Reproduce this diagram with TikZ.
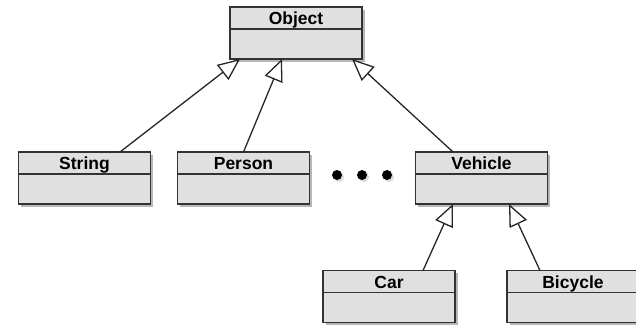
\documentclass[tikz,border=0pt]{standalone}
\usepackage{fontspec}
\setsansfont{Liberation Sans}
\usetikzlibrary{arrows.meta,shadows,positioning}
\tikzset{
  class shadow/.style={drop shadow={shadow xshift=2.5pt,shadow yshift=-2.5pt,opacity=0.4,fill=black!70}},
  class head/.style={draw=black!80,line width=1.6pt,fill=black!12,minimum width=132pt,minimum height=22pt,
    inner sep=0pt,outer sep=0pt,text height=16pt,text depth=3pt,
    font=\sffamily\bfseries\fontsize{17.5}{19}\selectfont,class shadow},
  class body/.style={draw=black!80,line width=1.6pt,fill=black!12,minimum width=132pt,minimum height=30pt,
    inner sep=0pt,outer sep=0pt,class shadow},
  generalization/.style={line width=1.3pt,black!85,-{Triangle[open,length=22pt,width=19pt,fill=white]}},
  ellipsis dot/.style={fill=black,drop shadow={shadow xshift=2pt,shadow yshift=-2pt,opacity=0.3}},
}
% #1 = node name, #2 = centre of the name bar, #3 = class name
\newcommand{\drawClassBox}[3]{
\node[class head] (#1) at (#2) {#3};
\node[class body,below=0pt of #1] (#1-body) {};
}

\begin{document}
\begin{tikzpicture}[x=1pt,y=-1pt]
\useasboundingbox (0,0) rectangle (636,324);
\drawClassBox{object}{296,18}{Object}
\drawClassBox{string}{84.5,163}{String}
\drawClassBox{person}{243.5,163}{Person}
\drawClassBox{vehicle}{481.5,163}{Vehicle}
\drawClassBox{car}{389,281.5}{Car}
\drawClassBox{bicycle}{573,281.5}{Bicycle}
% inheritance arrows
\draw[generalization] ([xshift=35.5pt]string.north) -- ([xshift=-56pt]object-body.south);
\draw[generalization] (person.north) -- ([xshift=-14pt]object-body.south);
\draw[generalization] ([xshift=-28.5pt]vehicle.north) -- ([xshift=56pt]object-body.south);
\draw[generalization] ([xshift=34pt]car.north) -- ([xshift=-28.5pt]vehicle-body.south);
\draw[generalization] ([xshift=-33pt]bicycle.north) -- ([xshift=27.5pt]vehicle-body.south);
% the "more classes" dots
\foreach \x in {337,362,387} {
  \fill[ellipsis dot] (\x,175) circle[radius=5];
}
\end{tikzpicture}
\end{document}
